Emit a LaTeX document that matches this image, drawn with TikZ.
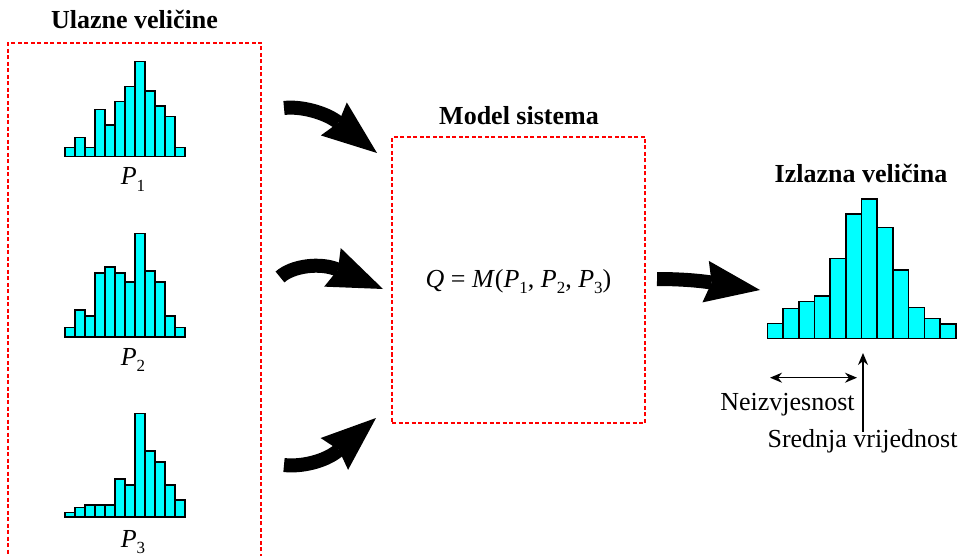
\documentclass[tikz,border=0pt]{standalone}
\usepackage{fontspec}
\setmainfont{Liberation Serif}
\usetikzlibrary{arrows.meta,positioning}
\definecolor{barfill}{RGB}{0,255,255}
\definecolor{boxred}{RGB}{255,0,0}
\tikzset{
  histbar/.style={draw=black,fill=barfill,line width=1.6pt},
  dashbox/.style={draw=boxred,dash pattern=on 4pt off 2.5pt,line width=1.4pt,inner sep=0pt},
  boxtitle/.style={font=\fontsize{26}{30}\selectfont\bfseries,anchor=base,inner sep=0pt},
  txt/.style={font=\fontsize{26}{30}\selectfont,anchor=base,inner sep=0pt},
  bigarrow/.style={line width=14pt,-{Stealth[length=55pt,width=42pt,inset=6pt,line width=0pt]}},
  thinarrow/.style={line width=1.5pt,-{Stealth[length=12pt,width=10pt]}},
  dblarrow/.style={line width=1.5pt,{Stealth[length=12pt,width=10pt]}-{Stealth[length=12pt,width=10pt]}}
}
\newcommand{\lowidx}[1]{\raisebox{-0.25em}{\fontsize{17}{17}\selectfont #1}}
% x0, base, bar width, heights
\newcommand{\histo}[4]{%
  \foreach \h [count=\i from 0] in {#4}
    \draw[histbar] ({#1+\i*#3},#2) rectangle ++(#3,-\h);}
\begin{document}
\begin{tikzpicture}[x=1pt,y=-1pt]
\useasboundingbox (0,0) rectangle (969,556);
% boxes and titles
\node[dashbox,minimum width=253pt,minimum height=515pt] (inputs) at (134.5,300.5) {};
\node[dashbox,minimum width=253pt,minimum height=286pt] (model) at (518.5,280) {};
\node[boxtitle] (tin) at (134.5,29) {Ulazne veličine};
\node[boxtitle] (tmodel) at (519,125) {Model sistema};
\node[boxtitle] (tout) at (861,183) {Izlazna veličina};
% input histograms
\histo{65}{156.7}{10}{9.3,19.3,9.3,47.3,31.7,55,70,95,65.7,50.7,40,9.3}
\histo{65}{336.7}{10}{9.3,26.7,20.7,64,70,64,55,103.3,65.7,55,20.7,9.3}
\histo{65}{516.7}{10}{4.3,9.3,11.7,11.7,11.7,37.7,31.7,103.3,65.7,55,31.7,16.7}
\node[txt] (p1) at (133,185) {\textit{P}\lowidx{1}};
\node[txt] (p2) at (133,365) {\textit{P}\lowidx{2}};
\node[txt] (p3) at (133,547) {\textit{P}\lowidx{3}};
% model
\node[txt] (eq) at (518.5,287) {\textit{Q} = \textit{M}(\textit{P}\lowidx{1}, \textit{P}\lowidx{2}, \textit{P}\lowidx{3})};
% output histogram
\histo{767.3}{338.3}{15.7}{15,30,36.7,42.3,80,124.3,139,110.7,68.3,30.7,20,14.3}
\node[txt] (unc) at (787.5,410) {Neizvjesnost};
\node[txt] (mid) at (862.5,447) {Srednja vrijednost};
\coordinate (mean) at (863,353);
\coordinate (ul) at (770,377.7);
\coordinate (ur) at (857,377.7);
\draw[thinarrow] ([yshift=-3pt]mid.north -| mean) -- (mean);
\draw[dblarrow] (ul) -- (ur);
% big arrows
\coordinate (a1s) at (284,108); \coordinate (a1e) at (377,153);
\coordinate (a2s) at (280,277); \coordinate (a2e) at (383,289);
\coordinate (a3s) at (284,465); \coordinate (a3e) at (376,418);
\coordinate (a4s) at (657,279); \coordinate (a4e) at (760,290);
\draw[bigarrow] (a1s) .. controls +(16,-2) and +(-52,-41) .. (a1e);
\draw[bigarrow] (a2s) .. controls +(12,-11) and +(-63,-27) .. (a2e);
\draw[bigarrow] (a3s) .. controls +(16,2) and +(-51,44) .. (a3e);
\draw[bigarrow] (a4s) .. controls +(18,0) and +(-65,-10) .. (a4e);
\end{tikzpicture}
\end{document}
